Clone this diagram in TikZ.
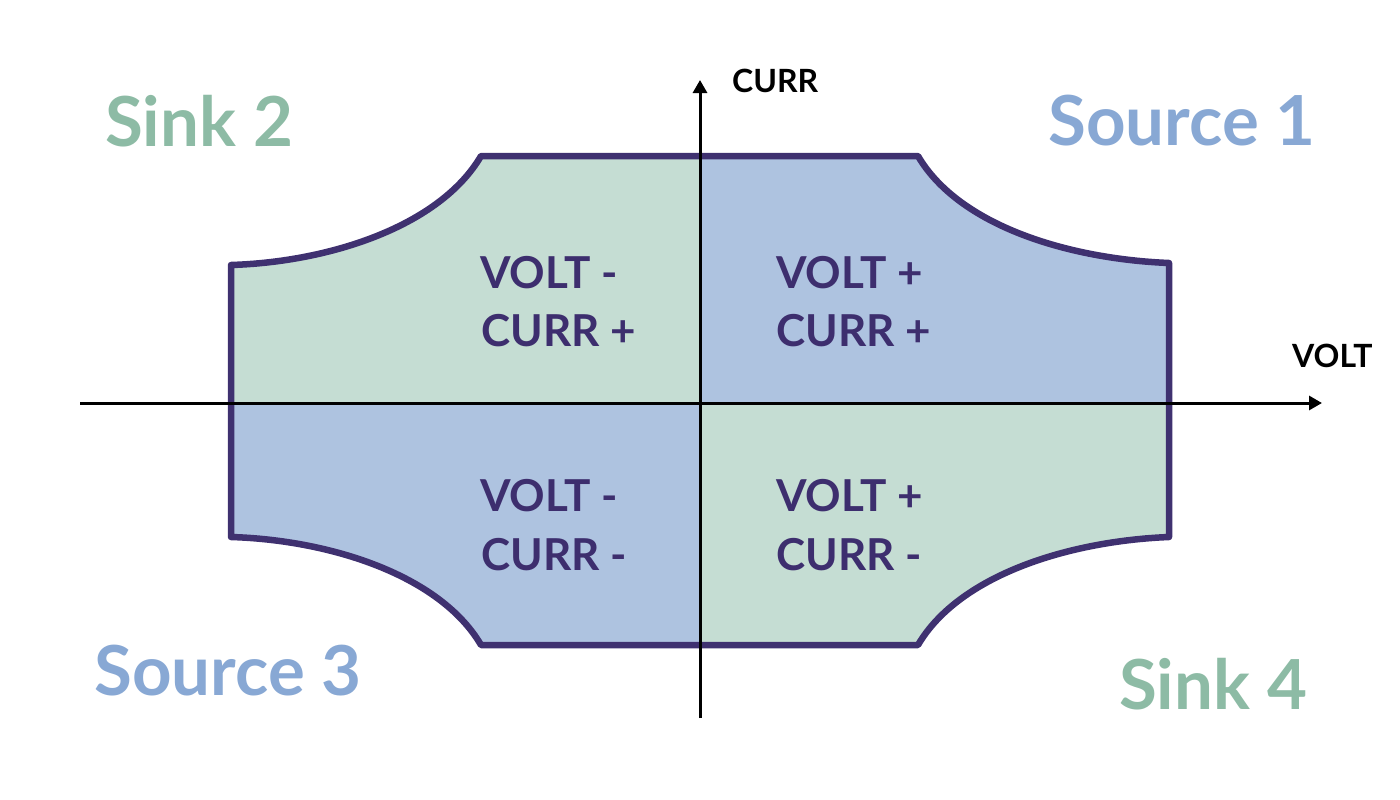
\documentclass[tikz,border=0pt]{standalone}
\usepackage{fontspec}
\setmainfont{Lato}
\usetikzlibrary{arrows.meta}
\definecolor{outl}{HTML}{3F3170}
\definecolor{qgreen}{HTML}{C5DDD3}
\definecolor{qblue}{HTML}{AEC3E0}
\definecolor{lgreen}{HTML}{8DBBA5}
\definecolor{lblue}{HTML}{88A8D4}
\definecolor{qtext}{HTML}{3D2E6E}
\tikzset{
  axis/.style={line width=3pt,-{Triangle[length=13pt,width=14pt]}},
  qlabel/.style={anchor=west,font=\fontsize{44}{48}\selectfont\bfseries,text=qtext,inner sep=0pt,align=left},
  glabel/.style={font=\fontsize{69}{74}\selectfont\bfseries,text=lgreen,inner sep=0pt},
  blabel/.style={font=\fontsize{69}{74}\selectfont\bfseries,text=lblue,inner sep=0pt},
  alabel/.style={font=\fontsize{32}{35}\selectfont\bfseries,text=black,inner sep=0pt},
}
\begin{document}
\begin{tikzpicture}[x=1pt,y=-1pt]
\useasboundingbox (0,0) rectangle (1400,800);
\def\shapepath{(481,156) -- (918,156) .. controls (959,226) and (1069,259) .. (1169,263) -- (1169,537) .. controls (1069,541) and (959,575) .. (918,645) -- (481,645) .. controls (440,575) and (330,540) .. (231,537) -- (231,265) .. controls (330,262) and (440,226) .. (481,156) -- cycle}
\begin{scope}
\clip \shapepath;
\fill[qgreen] (200,140) rectangle (700,403);
\fill[qblue] (700,140) rectangle (1200,403);
\fill[qblue] (200,403) rectangle (700,660);
\fill[qgreen] (700,403) rectangle (1200,660);
\end{scope}
\draw[outl,line width=6.5pt,line join=round] \shapepath;
\coordinate (xs) at (80,403);
\coordinate (xe) at (1322,403);
\coordinate (ys) at (700,718);
\coordinate (ye) at (700,80);
\draw[axis] (xs) -- (xe);
\draw[axis] (ys) -- (ye);
\node[alabel,anchor=west] (cl) at (732,81) {CURR};
\node[alabel,anchor=west] (vl) at (1292,356) {VOLT};
\node[qlabel] (q1a) at (480,273) {VOLT -};
\node[qlabel] (q1b) at (481,331) {CURR +};
\node[qlabel] (q2a) at (776,273) {VOLT +};
\node[qlabel] (q2b) at (776,331) {CURR +};
\node[qlabel] (q3a) at (480,496) {VOLT -};
\node[qlabel] (q3b) at (481,555) {CURR -};
\node[qlabel] (q4a) at (776,496) {VOLT +};
\node[qlabel] (q4b) at (776,555) {CURR -};
\node[glabel,anchor=west] (s2) at (105,121) {Sink 2};
\node[blabel,anchor=west] (s1) at (1048,121) {Source 1};
\node[blabel,anchor=west] (s3) at (94,671) {Source 3};
\node[glabel,anchor=west] (s4) at (1119,684) {Sink 4};
\end{tikzpicture}
\end{document}
